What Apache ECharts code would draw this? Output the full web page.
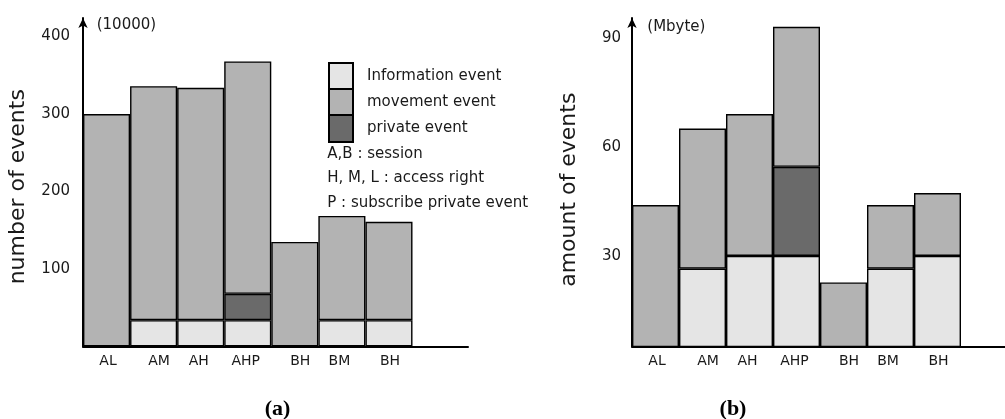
<!DOCTYPE html>
<html>
<head>
<meta charset="utf-8">
<script src="https://cdn.jsdelivr.net/npm/echarts@6/dist/echarts.min.js"></script>
<style>
html,body{margin:0;padding:0;background:#fff;}
#c{width:1005px;height:419px;}
</style>
</head>
<body>
<div id="c"></div>
<script>
// ---- data ----
const categories = ['AL', 'AM', 'AH', 'AHP', 'BH', 'BM', 'BH'];
const seriesNames = ['Information event', 'movement event', 'private event'];

// (a) number of events (x10000)
const countInfo     = ['-', 34, 34, 34, '-', 34, 34];
const countPrivate  = ['-', '-', '-', 34, '-', '-', '-'];
const countMovement = [300, 302, 300, 300, 135, 134.5, 127];
const countTicks    = [100, 200, 300, 400];

// (b) amount of events (Mbyte)
const sizeInfo      = ['-', 26.5, 30, 30, '-', 26.5, 30];
const sizePrivate   = ['-', '-', '-', 24.5, '-', '-', '-'];
const sizeMovement  = [44, 38.5, 39, 38.5, 22.7, 17.5, 17.3];
const sizeTicks     = [30, 60, 90];

const notes = ['A,B : session', 'H, M, L : access right', 'P : subscribe private event'];

// ---- styles ----
const FONT = 'DejaVu Sans';
const TXT = '#1a1a1a';
const colors = { 'Information event': '#e5e5e5', 'movement event': '#b3b3b3', 'private event': '#6a6a6a' };
const labelShift = [3, 11, -4, -4, 11, -5, 2]; // label padding tweaks (px)

const chart = echarts.init(document.getElementById('c'), null, { renderer: 'canvas' });

const rich = {};
labelShift.forEach((s, i) => {
  rich['l' + i] = { padding: s >= 0 ? [0, 0, 0, s] : [0, -s, 0, 0], fontFamily: FONT, fontSize: 14, color: TXT, lineHeight: 14 };
});

function catAxis(gridIndex) {
  return {
    type: 'category', gridIndex, data: categories,
    axisLine: { show: false }, axisTick: { show: false },
    axisLabel: {
      interval: 0, margin: 8,
      formatter: (v, i) => '{l' + i + '|' + v + '}',
      rich
    }
  };
}
function baseAxis(gridIndex) {
  return {
    type: 'value', gridIndex, min: 0, max: 1,
    axisLine: { show: true, lineStyle: { color: '#000', width: 2 } },
    axisTick: { show: false }, axisLabel: { show: false }, splitLine: { show: false }
  };
}
function valAxis(gridIndex, min, max, ticks, name, pad, margin, gap) {
  return {
    type: 'value', gridIndex, min, max,
    name, nameLocation: 'middle', nameGap: gap, nameRotate: 90,
    nameTextStyle: { fontFamily: FONT, fontSize: 22, color: TXT, padding: [0, pad, 0, 0] },
    axisLine: { show: true, symbol: ['none', 'arrow'], symbolSize: [7, 10], lineStyle: { color: '#000', width: 2 } },
    axisTick: { show: false },
    splitLine: { show: false },
    axisLabel: { customValues: ticks, margin, fontFamily: FONT, fontSize: 15, color: TXT }
  };
}
function hiddenY(gridIndex) {
  return { type: 'value', gridIndex, show: false };
}
function barSeries(name, data, xi, yi, stack) {
  return {
    type: 'bar', name, data, xAxisIndex: xi, yAxisIndex: yi, stack,
    barWidth: '100%', barCategoryGap: '0%', clip: true,
    itemStyle: { color: colors[name], borderColor: '#000', borderWidth: 1.4 },
    emphasis: { disabled: true }
  };
}

const option = {
  animation: false,
  backgroundColor: '#fff',
  textStyle: { fontFamily: FONT },
  grid: [
    { left: 83, top: 18, width: 329.5, bottom: 72.5 },
    { left: 83, top: 18, width: 385, bottom: 72.5 },
    { left: 632, top: 18, width: 329, bottom: 72.5 },
    { left: 632, top: 18, right: 0, bottom: 72.5 }
  ],
  xAxis: [catAxis(0), baseAxis(1), catAxis(2), baseAxis(3)],
  yAxis: [
    valAxis(0, 0, 424, countTicks, 'number of events', 9, 13, 54),
    hiddenY(1),
    valAxis(2, 5.1, 95.4, sizeTicks, 'amount of events', 15, 11, 52),
    hiddenY(3)
  ],
  legend: {
    orient: 'vertical', left: 328, top: 62, padding: 0,
    itemWidth: 24, itemHeight: 27, itemGap: -3,
    icon: 'rect', selectedMode: false,
    data: seriesNames,
    itemStyle: { borderColor: '#000', borderWidth: 2 },
    textStyle: { fontFamily: FONT, fontSize: 15, color: TXT, padding: [0, 0, 0, 9] }
  },
  series: [
    barSeries('Information event', countInfo, 0, 0, 'a'),
    barSeries('private event', countPrivate, 0, 0, 'a'),
    barSeries('movement event', countMovement, 0, 0, 'a'),
    barSeries('Information event', sizeInfo, 2, 2, 'b'),
    barSeries('private event', sizePrivate, 2, 2, 'b'),
    barSeries('movement event', sizeMovement, 2, 2, 'b')
  ],
  graphic: [
    { type: 'text', x: 96.7, y: 25, style: { text: '(10000)', fontFamily: FONT, fontSize: 15, fill: TXT, verticalAlign: 'middle' } },
    { type: 'text', x: 647.3, y: 26.7, style: { text: '(Mbyte)', fontFamily: FONT, fontSize: 15, fill: TXT, verticalAlign: 'middle' } },
    { type: 'text', x: 327.3, y: 154, style: { text: notes[0], fontFamily: FONT, fontSize: 15, fill: TXT, verticalAlign: 'middle' } },
    { type: 'text', x: 327.3, y: 178.5, style: { text: notes[1], fontFamily: FONT, fontSize: 15, fill: TXT, verticalAlign: 'middle' } },
    { type: 'text', x: 327.3, y: 203.3, style: { text: notes[2], fontFamily: FONT, fontSize: 15, fill: TXT, verticalAlign: 'middle' } },
    { type: 'text', x: 277.5, y: 409, style: { text: '(a)', fontFamily: 'Liberation Serif', fontWeight: 'bold', fontSize: 22, fill: '#000', align: 'center', verticalAlign: 'middle' } },
    { type: 'text', x: 733, y: 409, style: { text: '(b)', fontFamily: 'Liberation Serif', fontWeight: 'bold', fontSize: 22, fill: '#000', align: 'center', verticalAlign: 'middle' } }
  ]
};
chart.setOption(option);
</script>
</body>
</html>
